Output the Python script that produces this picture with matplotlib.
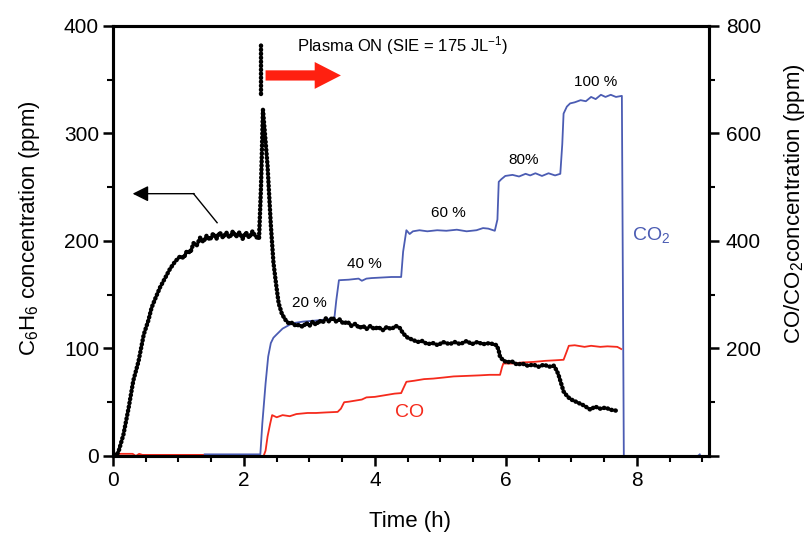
import matplotlib
matplotlib.use('Agg')
import matplotlib.pyplot as plt
from matplotlib.ticker import MultipleLocator

plt.rcParams['font.family'] = ['Liberation Sans', 'DejaVu Sans']

# C6H6 concentration (ppm, left axis) vs time (h)
t_c6h6 = [0.02, 0.08, 0.16, 0.24, 0.31, 0.39, 0.47, 0.54, 0.59, 0.65, 0.72, 0.80,
          0.87, 0.95, 1.03, 1.08, 1.13, 1.18, 1.23, 1.28, 1.33, 1.38, 1.43, 1.48,
          1.53, 1.58, 1.63, 1.68, 1.73, 1.78, 1.83, 1.88, 1.93, 1.98, 2.03, 2.08,
          2.13, 2.18, 2.23, 2.26, 2.29, 2.32, 2.36, 2.41, 2.45, 2.49, 2.53, 2.58,
          2.64, 2.69, 2.74, 2.79, 2.84, 2.90, 2.95, 3.00, 3.05, 3.10, 3.15, 3.20,
          3.25, 3.30, 3.35, 3.40, 3.46, 3.52, 3.58, 3.64, 3.70, 3.76, 3.82, 3.87,
          3.93, 3.99, 4.05, 4.12, 4.18, 4.25, 4.32, 4.38, 4.43, 4.50, 4.58, 4.65,
          4.72, 4.80, 4.89, 4.96, 5.04, 5.14, 5.22, 5.30, 5.40, 5.48, 5.56, 5.65,
          5.75, 5.86, 5.89, 5.91, 5.96, 6.01, 6.09, 6.17, 6.25, 6.33, 6.42, 6.50,
          6.58, 6.66, 6.73, 6.77, 6.80, 6.84, 6.88, 6.93, 6.98, 7.05, 7.12, 7.19,
          7.24, 7.29, 7.36, 7.44, 7.52, 7.60, 7.70]
c6h6 = [0, 3, 20, 45, 70, 88, 113, 126, 138, 147, 157, 166,
        174, 181, 186, 184, 191, 189, 198, 196, 203, 199, 205, 201,
        207, 202, 208, 203, 208, 203, 209, 204, 208, 202, 208, 203,
        209, 204, 202, 250, 322, 300, 270, 215, 180, 160, 142, 132,
        126, 123, 124, 121, 122, 120, 124, 121, 125, 122, 126, 124,
        128, 125, 129, 125, 127, 123, 125, 121, 123, 119, 121, 118,
        121, 118, 120, 117, 120, 118, 121, 119, 114, 110, 108, 106,
        107, 104, 105, 103, 106, 104, 106, 104, 107, 104, 106, 104,
        105, 103, 98, 92, 89, 87, 88, 85, 86, 84, 85, 83,
        85, 83, 84, 80, 76, 68, 60, 56, 53, 51, 49, 47,
        45, 43, 46, 44, 45, 43, 42]

# CO2 concentration (ppm, right axis)
t_co2 = [1.40, 2.25, 2.28, 2.33, 2.37, 2.41, 2.45, 2.49, 2.59, 2.74, 2.90, 3.10,
         3.25, 3.38, 3.41, 3.45, 3.60, 3.75, 3.80, 3.87, 3.95, 4.10, 4.25, 4.40,
         4.43, 4.48, 4.53, 4.58, 4.68, 4.80, 4.95, 5.09, 5.25, 5.40, 5.55, 5.65,
         5.73, 5.83, 5.87, 5.89, 5.93, 5.99, 6.10, 6.20, 6.30, 6.37, 6.45, 6.55,
         6.65, 6.75, 6.83, 6.86, 6.88, 6.93, 6.98, 7.05, 7.14, 7.22, 7.30, 7.37,
         7.45, 7.52, 7.60, 7.68, 7.77, 7.80, 7.85, 8.90, 8.96]
co2 = [3, 3, 60, 135, 185, 210, 220, 225, 237, 247, 250, 252,
       254, 256, 290, 327, 328, 330, 326, 330, 331, 332, 333, 333,
       380, 420, 413, 418, 420, 418, 420, 419, 421, 418, 420, 424,
       423, 419, 440, 510, 515, 521, 523, 520, 525, 522, 526, 521,
       526, 522, 525, 580, 637, 650, 656, 658, 662, 660, 668, 664,
       672, 668, 672, 668, 670, -3, -4, -3, 3]

# CO concentration (ppm, right axis)
t_co = [0.00, 0.30, 0.35, 0.40, 0.45, 1.40, 2.30, 2.33, 2.36, 2.40, 2.43, 2.50,
        2.59, 2.70, 2.80, 2.97, 3.10, 3.25, 3.43, 3.48, 3.53, 3.60, 3.70, 3.80,
        3.87, 4.00, 4.15, 4.30, 4.40, 4.43, 4.48, 4.60, 4.75, 4.89, 5.05, 5.20,
        5.40, 5.60, 5.75, 5.91, 5.94, 5.96, 6.10, 6.25, 6.42, 6.60, 6.75, 6.88,
        6.93, 6.96, 7.05, 7.20, 7.30, 7.44, 7.55, 7.70, 7.76]
co = [4, 4, 0, 4, 2, 2, 0, 10, 36, 60, 76, 72,
      76, 74, 78, 80, 80, 81, 82, 88, 100, 101, 103, 105,
      109, 110, 113, 116, 117, 125, 138, 140, 143, 144, 146, 148,
      149, 150, 151, 151, 165, 172, 172, 174, 175, 177, 178, 179,
      195, 205, 206, 203, 205, 203, 204, 203, 199]

# step labels: CO2 side, (time, ppm on right axis)
step_labels = ['20 %', '40 %', '60 %', '80%', '100 %']
step_t = [3.00, 3.84, 5.12, 6.27, 7.37]
step_v = [285, 358, 452, 551, 696]

blue = '#4b5cb3'
red = '#f52a1c'
bead = dict(color='black', lw=3.2, linestyle=(0, (0.1, 0.8)),
            dash_capstyle='round', solid_capstyle='round')

fig = plt.figure(figsize=(8.11, 5.36), dpi=100)
ax = fig.add_axes([0.1393, 0.1493, 0.7349, 0.8022])
ax2 = ax.twinx()
ax.set_zorder(ax2.get_zorder() + 1)
ax.patch.set_visible(False)

ax2.plot(t_co, co, color=red, lw=1.3, zorder=2)
ax2.plot(t_co2, co2, color=blue, lw=1.3, zorder=3)
ax.plot(t_c6h6, c6h6, **bead)

# plasma on marker
ax.plot([2.265, 2.265], [337, 385], **bead)
ax.arrow(2.33, 354, 1.15, 0, width=9.5, head_width=25, head_length=0.4,
         length_includes_head=True, color='#ff2010', lw=0)
ax.text(2.81, 382, 'Plasma ON (SIE = 175 JL$\\mathregular{^{-1}}$)',
        fontsize=12, ha='left', va='center')

# arrow pointing C6H6 curve to left axis
ax.plot([1.59, 1.23], [217, 244], color='black', lw=1)
ax.annotate('', xy=(0.30, 244), xytext=(1.24, 244),
            arrowprops=dict(arrowstyle='-|>', mutation_scale=24,
                            color='black', lw=1, shrinkA=0, shrinkB=0))

for lab, tx, v in zip(step_labels, step_t, step_v):
    ax2.text(tx, v, lab, fontsize=11, ha='center', va='center')
ax2.text(4.53, 81, 'CO', color=red, fontsize=14, ha='center', va='center')
ax2.text(8.21, 411, 'CO$\\mathregular{_2}$', color=blue, fontsize=14,
         ha='center', va='center')

ax.set_xlim(0, 9.1)
ax.set_ylim(0, 400)
ax2.set_ylim(0, 800)
ax.xaxis.set_major_locator(MultipleLocator(2))
ax.xaxis.set_minor_locator(MultipleLocator(0.5))
ax.yaxis.set_major_locator(MultipleLocator(100))
ax.yaxis.set_minor_locator(MultipleLocator(50))
ax2.set_yticks([0, 200, 400, 600, 800])
ax2.set_yticklabels(['', '200', '400', '600', '800'])
ax2.yaxis.set_minor_locator(MultipleLocator(100))

for a in (ax, ax2):
    for s in a.spines.values():
        s.set_linewidth(2.2)
    a.tick_params(which='major', direction='out', length=7, width=1.8,
                  labelsize=15)
    a.tick_params(which='minor', direction='out', length=4.5, width=1.5)
ax.tick_params(axis='y', pad=3)
ax.tick_params(axis='x', pad=4)
ax2.tick_params(axis='y', pad=5)

fig.text(0.506, 0.027, 'Time (h)', fontsize=16, ha='center', va='center')
fig.text(0.036, 0.575, 'C$\\mathregular{_6}$H$\\mathregular{_6}$ concentration (ppm)',
         fontsize=16, rotation=90, ha='center', va='center')
fig.text(0.980, 0.62, 'CO/CO$\\mathregular{_2}$concentration (ppm)',
         fontsize=16, rotation=90, ha='center', va='center')

fig.savefig('out.png', dpi=100)
